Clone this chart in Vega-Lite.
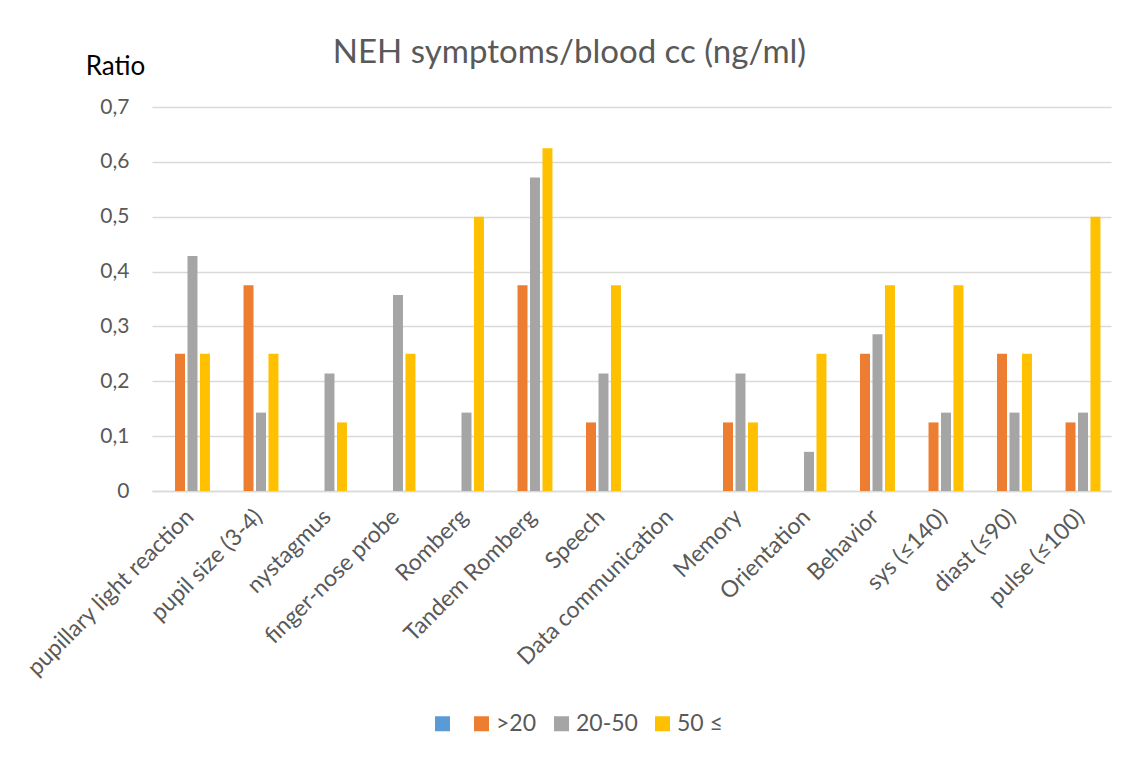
{
  "$schema": "https://vega.github.io/schema/vega-lite/v6.json",
  "width": 959,
  "height": 384,
  "autosize": {"type": "none"},
  "padding": {"left": 152, "top": 107, "right": 28, "bottom": 266},
  "background": "white",
  "config": {
    "font": "Lato",
    "view": {"stroke": null}
  },
  "title": {
    "text": "NEH symptoms/blood cc (ng/ml)",
    "fontSize": 33,
    "fontWeight": "normal",
    "color": "#595959",
    "font": "Lato",
    "anchor": "middle",
    "baseline": "alphabetic",
    "offset": -43,
    "dx": -62
  },
  "data": {
    "values": [
      {"symptom": "pupillary light reaction", "group": "", "ratio": 0},
      {"symptom": "pupillary light reaction", "group": ">20", "ratio": 0.25},
      {"symptom": "pupillary light reaction", "group": "20-50", "ratio": 0.4286},
      {"symptom": "pupillary light reaction", "group": "50 ≤", "ratio": 0.25},
      {"symptom": "pupil size  (3-4)", "group": "", "ratio": 0},
      {"symptom": "pupil size  (3-4)", "group": ">20", "ratio": 0.375},
      {"symptom": "pupil size  (3-4)", "group": "20-50", "ratio": 0.1429},
      {"symptom": "pupil size  (3-4)", "group": "50 ≤", "ratio": 0.25},
      {"symptom": "nystagmus", "group": "", "ratio": 0},
      {"symptom": "nystagmus", "group": ">20", "ratio": 0},
      {"symptom": "nystagmus", "group": "20-50", "ratio": 0.2143},
      {"symptom": "nystagmus", "group": "50 ≤", "ratio": 0.125},
      {"symptom": "finger-nose probe", "group": "", "ratio": 0},
      {"symptom": "finger-nose probe", "group": ">20", "ratio": 0},
      {"symptom": "finger-nose probe", "group": "20-50", "ratio": 0.3571},
      {"symptom": "finger-nose probe", "group": "50 ≤", "ratio": 0.25},
      {"symptom": "Romberg", "group": "", "ratio": 0},
      {"symptom": "Romberg", "group": ">20", "ratio": 0},
      {"symptom": "Romberg", "group": "20-50", "ratio": 0.1429},
      {"symptom": "Romberg", "group": "50 ≤", "ratio": 0.5},
      {"symptom": "Tandem Romberg", "group": "", "ratio": 0},
      {"symptom": "Tandem Romberg", "group": ">20", "ratio": 0.375},
      {"symptom": "Tandem Romberg", "group": "20-50", "ratio": 0.5714},
      {"symptom": "Tandem Romberg", "group": "50 ≤", "ratio": 0.625},
      {"symptom": "Speech", "group": "", "ratio": 0},
      {"symptom": "Speech", "group": ">20", "ratio": 0.125},
      {"symptom": "Speech", "group": "20-50", "ratio": 0.2143},
      {"symptom": "Speech", "group": "50 ≤", "ratio": 0.375},
      {"symptom": "Data communication", "group": "", "ratio": 0},
      {"symptom": "Data communication", "group": ">20", "ratio": 0},
      {"symptom": "Data communication", "group": "20-50", "ratio": 0},
      {"symptom": "Data communication", "group": "50 ≤", "ratio": 0},
      {"symptom": "Memory", "group": "", "ratio": 0},
      {"symptom": "Memory", "group": ">20", "ratio": 0.125},
      {"symptom": "Memory", "group": "20-50", "ratio": 0.2143},
      {"symptom": "Memory", "group": "50 ≤", "ratio": 0.125},
      {"symptom": "Orientation", "group": "", "ratio": 0},
      {"symptom": "Orientation", "group": ">20", "ratio": 0},
      {"symptom": "Orientation", "group": "20-50", "ratio": 0.0714},
      {"symptom": "Orientation", "group": "50 ≤", "ratio": 0.25},
      {"symptom": "Behavior", "group": "", "ratio": 0},
      {"symptom": "Behavior", "group": ">20", "ratio": 0.25},
      {"symptom": "Behavior", "group": "20-50", "ratio": 0.2857},
      {"symptom": "Behavior", "group": "50 ≤", "ratio": 0.375},
      {"symptom": "sys (≤140)", "group": "", "ratio": 0},
      {"symptom": "sys (≤140)", "group": ">20", "ratio": 0.125},
      {"symptom": "sys (≤140)", "group": "20-50", "ratio": 0.1429},
      {"symptom": "sys (≤140)", "group": "50 ≤", "ratio": 0.375},
      {"symptom": "diast (≤90)", "group": "", "ratio": 0},
      {"symptom": "diast (≤90)", "group": ">20", "ratio": 0.25},
      {"symptom": "diast (≤90)", "group": "20-50", "ratio": 0.1429},
      {"symptom": "diast (≤90)", "group": "50 ≤", "ratio": 0.25},
      {"symptom": "pulse (≤100)", "group": "", "ratio": 0},
      {"symptom": "pulse (≤100)", "group": ">20", "ratio": 0.125},
      {"symptom": "pulse (≤100)", "group": "20-50", "ratio": 0.1429},
      {"symptom": "pulse (≤100)", "group": "50 ≤", "ratio": 0.5}
    ]
  },
  "mark": {"type": "bar"},
  "encoding": {
    "x": {
      "field": "symptom",
      "type": "nominal",
      "sort": null,
      "scale": {"paddingInner": 0.308, "paddingOuter": 0.154},
      "axis": {
        "title": null,
        "labelAngle": -45,
        "labelAlign": "right",
        "labelBaseline": "middle",
        "labelFontSize": 23,
        "labelColor": "#595959",
        "labelPadding": 22,
        "labelOffset": 4,
        "labelLimit": 400,
        "ticks": false,
        "domain": true,
        "domainColor": "#d9d9d9",
        "domainWidth": 1.5,
        "grid": false
      }
    },
    "xOffset": {
      "field": "group",
      "type": "nominal",
      "sort": ["", ">20", "20-50", "50 ≤"],
      "scale": {"paddingInner": 0.2}
    },
    "y": {
      "field": "ratio",
      "type": "quantitative",
      "scale": {"domain": [0, 0.7], "nice": false},
      "axis": {
        "values": [0, 0.1, 0.2, 0.3, 0.4, 0.5, 0.6, 0.7],
        "labelExpr": "replace(format(datum.value, datum.value == 0 ? 'd' : '.1f'), '.', ',')",
        "labelFontSize": 21,
        "labelColor": "#595959",
        "labelPadding": 23,
        "ticks": false,
        "domain": false,
        "grid": true,
        "gridColor": "#d9d9d9",
        "gridWidth": 1.5,
        "title": "Ratio",
        "titleAngle": 0,
        "titleAlign": "center",
        "titleBaseline": "alphabetic",
        "titleX": -37,
        "titleY": -33,
        "titleFontSize": 26,
        "titleFontWeight": "normal",
        "titleColor": "#000000"
      }
    },
    "color": {
      "field": "group",
      "type": "nominal",
      "sort": ["", ">20", "20-50", "50 ≤"],
      "scale": {
        "domain": ["", ">20", "20-50", "50 ≤"],
        "range": ["#5b9bd5", "#ed7d31", "#a5a5a5", "#ffc000"]
      },
      "legend": {
        "title": null,
        "orient": "none",
        "direction": "horizontal",
        "legendX": 279,
        "legendY": 605,
        "symbolType": "square",
        "symbolSize": 225,
        "symbolStrokeWidth": 0,
        "labelFontSize": 23,
        "labelColor": "#595959",
        "labelOffset": 3,
        "columnPadding": 13
      }
    }
  }
}
